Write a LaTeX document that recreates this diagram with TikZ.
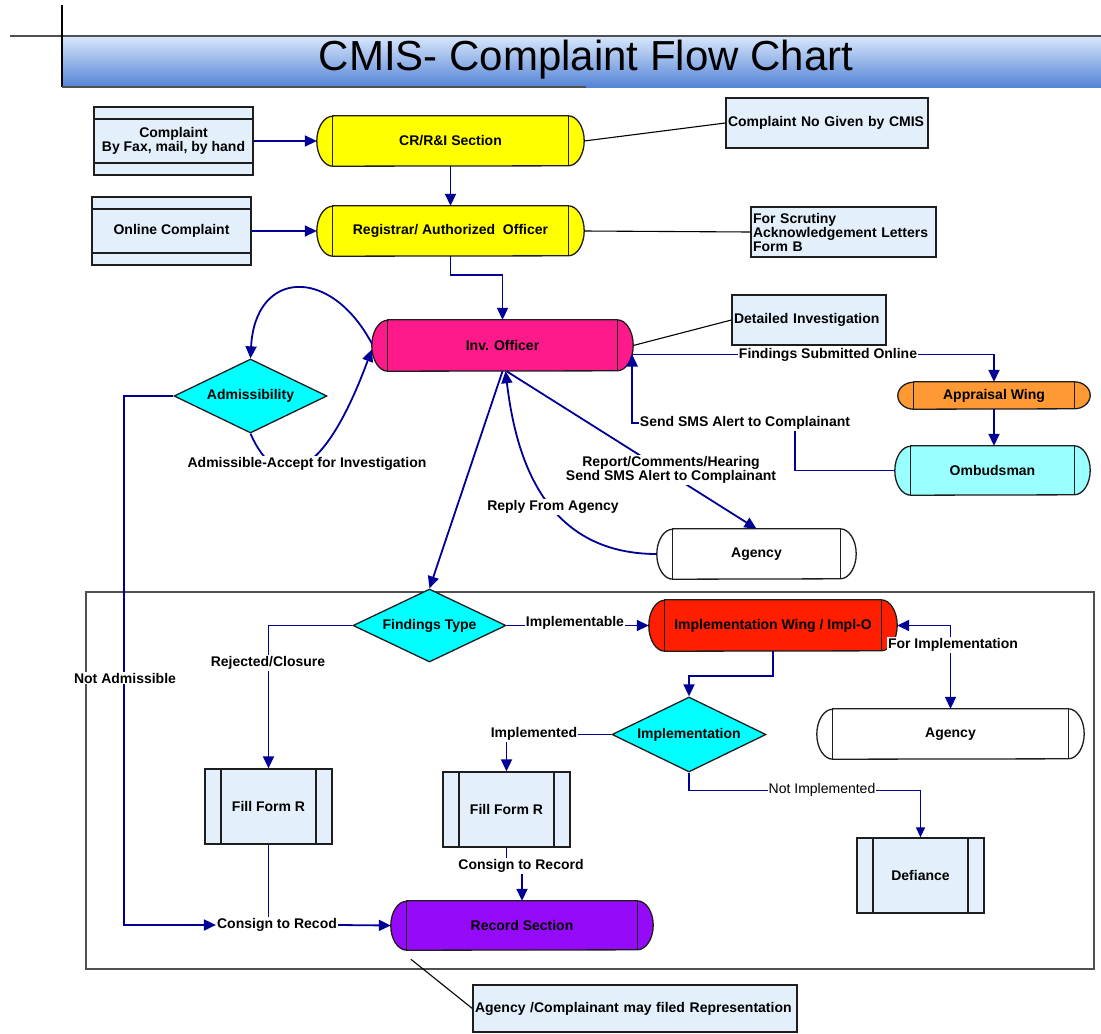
\documentclass[tikz,border=0pt]{standalone}
\usepackage{fontspec}
\setmainfont{Liberation Sans}
\usetikzlibrary{arrows.meta,shapes.geometric,backgrounds}

\definecolor{conn}{RGB}{0,0,150}
\definecolor{outl}{RGB}{30,30,30}
\definecolor{boxfill}{RGB}{227,240,251}
\definecolor{decfill}{RGB}{0,255,255}
\definecolor{capyellow}{RGB}{255,255,0}
\definecolor{invpink}{RGB}{255,26,140}
\definecolor{purp}{RGB}{150,10,250}
\definecolor{implred}{RGB}{255,30,0}
\definecolor{apprs}{RGB}{255,153,51}
\definecolor{ombc}{RGB}{153,255,255}
\definecolor{titletop}{RGB}{214,229,250}
\definecolor{titlebot}{RGB}{84,132,214}
\definecolor{framegray}{RGB}{80,80,80}

% capsule outline: flat body with two half-elliptic ends and two inner rules
\newcommand\capsulepath[3]{%
  \filldraw[shapeline, fill=#2]
    ([xshift=16]#1.north west) -- ([xshift=-16]#1.north east)
    arc[start angle=90, end angle=-90, x radius=16pt, y radius=#3pt]
    -- ([xshift=16]#1.south west)
    arc[start angle=270, end angle=90, x radius=16pt, y radius=#3pt] -- cycle;
  \draw[shapeline] ([xshift=16]#1.north west) -- ([xshift=16]#1.south west)
    ([xshift=-16]#1.north east) -- ([xshift=-16]#1.south east);}

\begin{document}
\begin{tikzpicture}[x=1pt,y=-1pt,
  every node/.style={font=\fontsize{14}{14}\selectfont\bfseries, inner sep=1pt},
  shapeline/.style={draw=outl, line width=1.3pt},
  capsule/.style={rectangle, inner sep=0pt, align=center},
  note/.style={rectangle, shapeline, fill=boxfill, align=left, inner sep=2pt},
  databox/.style={rectangle, shapeline, fill=boxfill, align=center,
    path picture={\draw[outl, line width=1.3pt]
      ([yshift=-12]path picture bounding box.north west) -- ([yshift=-12]path picture bounding box.north east)
      ([yshift=12]path picture bounding box.south west) -- ([yshift=12]path picture bounding box.south east);}},
  procbox/.style={rectangle, shapeline, fill=boxfill, align=center,
    path picture={\draw[outl, line width=1.3pt]
      ([xshift=16]path picture bounding box.north west) -- ([xshift=16]path picture bounding box.south west)
      ([xshift=-16]path picture bounding box.north east) -- ([xshift=-16]path picture bounding box.south east);}},
  decision/.style={diamond, shapeline, fill=decfill, inner sep=0pt, aspect=2},
  link/.style={draw=conn, line width=1.8pt},
  flow/.style={link, -{Triangle[length=12pt,width=11pt]}},
  flowboth/.style={link, {Triangle[length=12pt,width=11pt]}-{Triangle[length=12pt,width=11pt]}},
  thinflow/.style={draw=conn, line width=1.2pt, -{Triangle[length=10pt,width=9pt]}},
  noteline/.style={draw=black, line width=1.1pt},
  lbl/.style={fill=white, inner sep=1pt}
]
\useasboundingbox (0,0) rectangle (1101,1034);

% ---------- title ----------
\node[font=\fontsize{42}{42}\selectfont] (title) at (586,60) {CMIS- Complaint Flow Chart};

% ---------- process nodes ----------
\node[databox, minimum width=159, minimum height=68] (cpl) at (173.5,141) {Complaint\\By Fax, mail, by hand};
\node[databox, minimum width=159, minimum height=68] (onl) at (171.5,231) {Online Complaint};
\node[capsule, minimum width=267, minimum height=50] (cr) at (450.5,141) {CR/R\&I Section};
\node[capsule, minimum width=267, minimum height=50] (reg) at (450.5,231) {Registrar/ Authorized\ \ Officer};
\node[note, text width=198, minimum height=50] (cno) at (827,123) {Complaint No Given by CMIS};
\node[note, text width=181, minimum height=50] (scr) at (843.5,232) {For Scrutiny\\Acknowledgement Letters\\Form B};
\node[capsule, minimum width=261, minimum height=51] (inv) at (502.5,345.5) {Inv. Officer};
\node[note, text width=150, minimum height=50] (det) at (809,320) {Detailed Investigation};
\node[decision, minimum width=153, minimum height=74] (adm) at (250.5,396) {Admissibility};
\node[capsule, minimum width=192, minimum height=27] (apr) at (994,395.5) {Appraisal Wing};
\node[capsule, minimum width=195, minimum height=49] (omb) at (992.5,470.5) {Ombudsman};
\node[capsule, minimum width=199, minimum height=50] (ag1) at (756.5,554) {Agency};
\node[decision, minimum width=153, minimum height=73] (fnd) at (429.5,625.5) {Findings Type};
\node[capsule, minimum width=248, minimum height=51] (impw) at (773,625.5) {Implementation Wing / Impl-O};
\node[decision, minimum width=154, minimum height=75] (impl) at (689,734.5) {Implementation};
\node[capsule, minimum width=267, minimum height=50] (ag2) at (950.5,734) {Agency};
\node[procbox, minimum width=127, minimum height=75] (ffr1) at (268.5,806.5) {Fill Form R};
\node[procbox, minimum width=127, minimum height=75] (ffr2) at (506.5,809.5) {Fill Form R};
\node[procbox, minimum width=127, minimum height=75] (def) at (920.5,875.5) {Defiance};
\node[capsule, minimum width=262, minimum height=49] (rec) at (522,925.5) {Record Section};
\node[note, text width=320, minimum height=47] (rep) at (635,1008.5) {Agency /Complainant may filed Representation};

% labels that connectors run into
\node[lbl] (csr1) at (277,925) {Consign to Recod};
\node[lbl] (csr2) at (521,866) {Consign to Record};

% ---------- backdrop: title bar, frame, capsule outlines ----------
\begin{scope}[on background layer]
  \shade[top color=titletop, bottom color=titlebot] (62,37) rectangle (1101,87);
  \draw[framegray, line width=1.6pt] (10,36) -- (1101,36);
  \draw[black, line width=1.2pt] (62,5) -- (62,87);
  \draw[framegray, line width=1.6pt] (62,87) -- (586,87);
  \draw[framegray, line width=1.3pt] (86,592) rectangle (1094,969);
  \capsulepath{cr}{capyellow}{25}
  \capsulepath{reg}{capyellow}{25}
  \capsulepath{inv}{invpink}{25.5}
  \capsulepath{apr}{apprs}{13.5}
  \capsulepath{omb}{ombc}{24.5}
  \capsulepath{ag1}{white}{25}
  \capsulepath{impw}{implred}{25.5}
  \capsulepath{ag2}{white}{25}
  \capsulepath{rec}{purp}{24.5}
\end{scope}

% ---------- connectors ----------
\draw[flow] (cpl.east) -- (cr.west);
\draw[flow] (cr.south) -- (reg.north);
\draw[flow] (onl.east) -- (reg.west);
\draw[flow] (reg.south) -- ++(0,19) -| (inv.north);

\draw[noteline] (cr.east) -- (cno.west);
\draw[noteline] (reg.east) -- (scr.west);
\draw[noteline] (inv.east) -- (det.west);
\draw[noteline] ([xshift=20,yshift=-9]rec.south west) -- (rep.west);

% admissibility loop
\draw[flow] ([yshift=2]inv.west) .. controls (330,265) and (255,270) .. (adm.north);
\draw[flow] (adm.south) .. controls (275,490) and (320,490) .. ([yshift=-4]inv.west);
\draw[flow] (adm.west) -- ++(-49,0) |- (csr1.west);

% investigation and agency
\draw[flow] (inv.south) -- (fnd.north);
\draw[flow] (ag1.west) .. controls (540,554) and (515,450) .. ([xshift=3]inv.south);
\draw[flow] ([xshift=4]inv.south) -- (ag1.north);

% appraisal and ombudsman
\draw[flow] ([xshift=-1,yshift=-9]inv.east) -| (apr.north);
\draw[flow] (apr.south) -- (apr.south |- omb.north);
\draw[flow] (omb.west) -| (795,423) -| ([xshift=-1,yshift=-9]inv.east);

% findings branches
\draw[flow] (fnd.west) -| (ffr1.north);
\draw[flow] (fnd.east) -- (impw.west);
\draw[flow] (impw.south) -- ++(0,25) -| (impl.north);
\draw[flowboth] (impw.east) -| (ag2.north);
\draw[flow] (impl.west) -| (ffr2.north);
\draw[thinflow] (impl.south) -- ++(0,18) -| (def.north);

% into the record section
\draw[link] (ffr1.south) -- (ffr1.south |- csr1.north);
\draw[flow] (csr1.east) -- (rec.west);
\draw[link] (ffr2.south) -- (ffr2.south |- csr2.north);
\draw[flow] (csr2.south -| rec.north) -- (rec.north);

% ---------- connector labels ----------
\node[lbl] (ladm) at (307,464) {Admissible-Accept for Investigation};
\node[lbl] (lnot) at (125,678) {Not Admissible};
\node[lbl] (lrep) at (553,507) {Reply From Agency};
\node[lbl, align=center] (lrch) at (671,470) {Report/Comments/Hearing\\Send SMS Alert to Complainant};
\node[lbl] (lfso) at (828,355) {Findings Submitted Online};
\node[lbl] (lsms) at (745,423) {Send SMS Alert to Complainant};
\node[lbl] (lrej) at (268,663) {Rejected/Closure};
\node[lbl] (limp) at (575,623) {Implementable};
\node[lbl] (lfor) at (953,645) {For Implementation};
\node[lbl] (limd) at (534,734) {Implemented};
\node[lbl, font=\fontsize{14}{14}\selectfont] (lnim) at (822,790) {Not Implemented};
\end{tikzpicture}
\end{document}
